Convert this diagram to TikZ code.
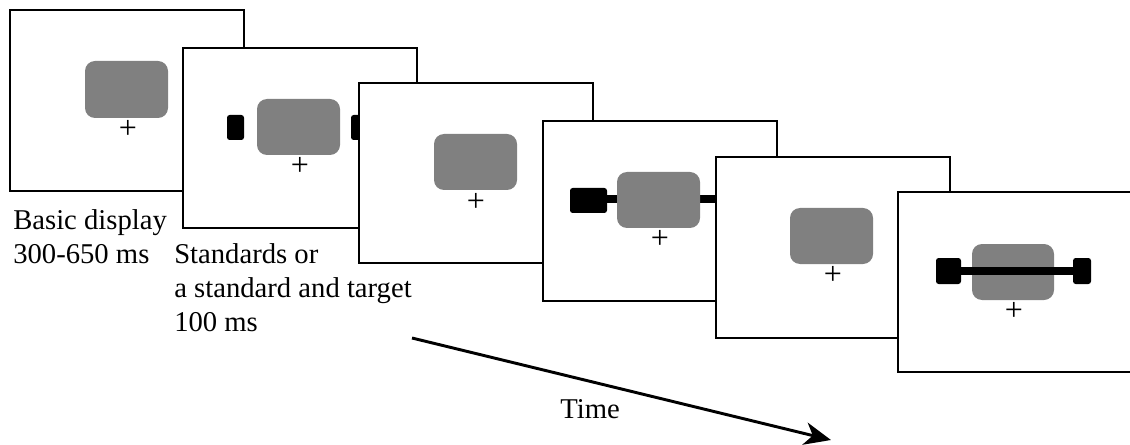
\documentclass[tikz,border=0pt]{standalone}
\usepackage{fontspec}
\setmainfont{Liberation Serif}
\newfontfamily\tnr{Liberation Serif}
\usetikzlibrary{arrows.meta}
\begin{document}
\begin{tikzpicture}[x=0.75pt,y=-0.75pt,
  frame/.style={draw=black,fill=white,line width=1.5pt},
  graybox/.style={fill=black!50,rounded corners=7.5pt},
  blk/.style={fill=black,rounded corners=2pt},
  bar/.style={line width=5.5pt},
  cross/.style={font=\tnr\fontsize{24}{24}\selectfont,inner sep=0pt},
  lbl/.style={anchor=base west,inner sep=0pt,font=\tnr\fontsize{21.5}{24}\selectfont},
  timearrow/.style={line width=2.2pt,-{Stealth[length=20pt,width=17pt,inset=6pt]}}]
\clip (0,0) rectangle (1130,445);
\fill[white] (0,0) rectangle (1130,445);
% frame 1
\draw[frame] (10,10) rectangle (244,191);
\fill[graybox] (85,61) rectangle (168,118);
\node[cross] (p1) at (128,129) {+};
% frame 2
\draw[frame] (183,48) rectangle (417,228);
\fill[graybox] (257,99) rectangle (340,155);
\node[cross] (p2) at (300,166) {+};
\fill[blk] (227,115) rectangle (244,140);
\fill[blk] (351,115) rectangle (368,140);
% frame 3
\draw[frame] (359,83) rectangle (593,263);
\fill[graybox] (434,134) rectangle (517,190);
\node[cross] (p3) at (476,202) {+};
% frame 4
\draw[frame] (543,121) rectangle (777,301);
\coordinate (b4l) at (600,199);
\coordinate (b4r) at (760,199);
\draw[bar] (b4l) -- (b4r);
\fill[graybox] (617,172) rectangle (700,228);
\node[cross] (p4) at (660,239) {+};
\fill[blk] (570,188) rectangle (607,213);
% frame 5
\draw[frame] (716,157) rectangle (950,338);
\fill[graybox] (790,208) rectangle (873,264);
\node[cross] (p5) at (833,275) {+};
% frame 6
\draw[frame] (898,192) rectangle (1140,372);
\fill[graybox] (972,244) rectangle (1054,300);
\node[cross] (p6) at (1014,311) {+};
\fill[blk] (936,258) rectangle (961,284);
\fill[blk] (1073,258) rectangle (1091,284);
\coordinate (b6l) at (958,271);
\coordinate (b6r) at (1076,271);
\draw[bar] (b6l) -- (b6r);
% labels
\node[lbl] (l1) at (13,229) {Basic display};
\node[lbl] (l2) at (13,263) {300-650 ms};
\node[lbl] (l3) at (174,263) {Standards or};
\node[lbl] (l4) at (174,297) {a standard and target};
\node[lbl] (l5) at (174,331) {100 ms};
% time arrow
\coordinate (ta) at (412,338);
\coordinate (tb) at (831,440);
\draw[timearrow] (ta) -- (tb);
\node[lbl] (time) at (560,418) {Time};
\end{tikzpicture}
\end{document}
